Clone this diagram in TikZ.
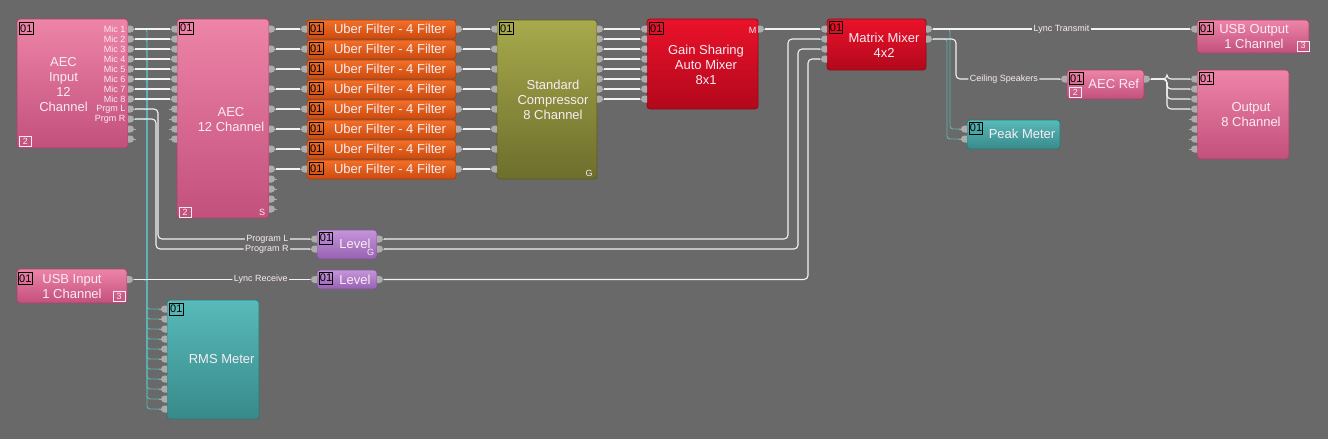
\documentclass[tikz,border=0pt]{standalone}
\usepackage{fontspec}
\setmainfont{Liberation Sans}
\usetikzlibrary{calc}
\definecolor{bg}{RGB}{105,105,105}
\definecolor{pinkT}{RGB}{238,132,168}
\definecolor{pinkB}{RGB}{194,80,124}
\definecolor{oraT}{RGB}{242,112,40}
\definecolor{oraB}{RGB}{204,74,14}
\definecolor{oliT}{RGB}{168,170,76}
\definecolor{oliB}{RGB}{108,110,44}
\definecolor{redT}{RGB}{234,18,42}
\definecolor{redB}{RGB}{178,8,28}
\definecolor{tealT}{RGB}{88,186,186}
\definecolor{tealB}{RGB}{56,138,138}
\definecolor{purT}{RGB}{198,148,218}
\definecolor{purB}{RGB}{150,98,178}
\definecolor{txt}{RGB}{250,236,244}
\definecolor{portc}{RGB}{172,172,172}
\definecolor{wirec}{RGB}{242,242,242}
\definecolor{tealw}{RGB}{92,182,182}
\newcommand{\blk}[7]{\node[blkst, top color=#6, bottom color=#7, draw=#7!85!black, minimum width={(#4)-(#2)}, minimum height={(#5)-(#3)}] (#1) at ({((#2)+(#4))/2},{((#3)+(#5))/2}) {};}
\newcommand{\inport}[3]{%
 \fill[portc] ({#2},{#3-3.5}) -- ({#2-2.5},{#3-3.5}) arc[start angle=270,end angle=90,radius=3.5] -- ({#2},{#3+3.5}) -- cycle;
 \draw[portc, line width=1pt] ({#2-5},{#3}) -- ({#2-8},{#3});
 \coordinate (#1) at ({#2-7},{#3});}
\newcommand{\outport}[3]{%
 \fill[portc] ({#2},{#3-3.5}) -- ({#2+2.5},{#3-3.5}) arc[start angle=-90,end angle=90,radius=3.5] -- ({#2},{#3+3.5}) -- cycle;
 \draw[portc, line width=1pt] ({#2+5},{#3}) -- ({#2+8},{#3});
 \coordinate (#1) at ({#2+7},{#3});}
\newcommand{\idbox}[3]{\node[idst] (#1) at (#2,#3) {01};}
\newcommand{\nbox}[4]{\node[nbst] (#1) at (#2,#3) {#4};}
\begin{document}
\begin{tikzpicture}[x=1pt,y=-1pt,
 wire/.style={draw=wirec, line width=1.1pt, rounded corners=4pt},
 twire/.style={draw=tealw, line width=0.9pt, rounded corners=3pt},
 blkst/.style={rounded corners=3pt, line width=0.8pt, inner sep=0pt},
 btxt/.style={text=txt, font=\fontsize{13}{15}\selectfont, align=center, inner sep=0pt},
 lbl/.style={fill=bg, text=txt, font=\fontsize{9}{9}\selectfont, inner xsep=1.5pt, inner ysep=0.5pt},
 idst/.style={draw=black, line width=0.8pt, text=black, font=\fontsize{11}{11}\selectfont, inner sep=0.3pt, anchor=north west, minimum width=13.3pt, minimum height=12pt},
 nbst/.style={draw=txt, line width=0.8pt, text=txt, font=\fontsize{9}{9}\selectfont, inner sep=0.3pt, minimum width=11.5pt, minimum height=10pt, anchor=north west},
 sml/.style={text=txt, font=\fontsize{9}{9}\selectfont, inner sep=0pt}
]
\fill[bg] (0,0) rectangle (1328,439);
\useasboundingbox (0,0) rectangle (1328,439);

% ---------- blocks
\blk{aecin}{17}{19}{128}{148}{pinkT}{pinkB}
\blk{aec}{177}{19}{269}{218}{pinkT}{pinkB}
\foreach \k in {1,...,8}{\blk{ub\k}{307}{20*\k}{456}{20*\k+19}{oraT}{oraB}}
\blk{comp}{497}{20}{597}{179}{oliT}{oliB}
\blk{gs}{647}{19}{758}{109}{redT}{redB}
\blk{lv1}{317}{230}{377}{259}{purT}{purB}
\blk{lv2}{317}{270}{377}{289}{purT}{purB}
\blk{usbin}{17}{269}{127}{303}{pinkT}{pinkB}
\blk{rms}{167}{300}{259}{419}{tealT}{tealB}
\blk{mm}{827}{19}{926}{70}{redT}{redB}
\blk{peak}{967}{120}{1060}{149}{tealT}{tealB}
\blk{usbout}{1197}{20}{1309}{53}{pinkT}{pinkB}
\blk{ref}{1067}{70}{1144}{99}{pinkT}{pinkB}
\blk{out}{1197}{70}{1289}{159}{pinkT}{pinkB}

% ---------- ports
\foreach \k in {1,...,12}{\outport{aecin-o\k}{128}{19+10*\k}\inport{aec-i\k}{177}{19+10*\k}}
\foreach \k in {1,...,8}{\outport{aec-o\k}{269}{9+20*\k}}
\foreach \k in {9,...,12}{\outport{aec-o\k}{269}{89+10*\k}}
\foreach \k in {1,...,8}{\inport{ub\k-i}{307}{9+20*\k}\outport{ub\k-o}{456}{9+20*\k}\inport{comp-i\k}{497}{9+20*\k}\outport{comp-o\k}{597}{19+10*\k}\inport{gs-i\k}{647}{19+10*\k}}
\outport{gs-o}{758}{29}
\inport{lv1-i1}{317}{239}\inport{lv1-i2}{317}{249}
\outport{lv1-o1}{377}{239}\outport{lv1-o2}{377}{249}
\inport{lv2-i}{317}{279.5}\outport{lv2-o}{377}{279.5}
\outport{usbin-o}{127}{279.5}
\foreach \k in {1,...,11}{\inport{rms-i\k}{167}{299+10*\k}}
\foreach \k in {1,...,4}{\inport{mm-i\k}{827}{19+10*\k}}
\outport{mm-o1}{926}{29}\outport{mm-o2}{926}{39}
\inport{peak-i1}{967}{129}\inport{peak-i2}{967}{139}
\inport{usbout-i}{1197}{29}
\inport{ref-i}{1067}{79}\outport{ref-o}{1144}{79}
\foreach \k in {1,...,8}{\inport{out-i\k}{1197}{69+10*\k}}

% ---------- teal (meter) connectors
\foreach \k in {1,...,10}{\draw[twire] (aecin-o\k) -- ++(12,0) |- (rms-i\k);}
\draw[twire] (usbin-o) -- ++(13,0) |- (rms-i11);
\draw[twire] (mm-o1) -- ++(17,0) |- (peak-i1);
\draw[twire] (mm-o2) -- ++(14,0) |- (peak-i2);

% ---------- white connectors
\foreach \k in {1,...,8}{
 \draw[wire] (aecin-o\k) -- (aec-i\k);
 \draw[wire] (aec-o\k) -- (ub\k-i);
 \draw[wire] (ub\k-o) -- (comp-i\k);
 \draw[wire] (comp-o\k) -- (gs-i\k);}
\draw[wire] (aecin-o9) -- ++(23,0) |- node[lbl,pos=0.86]{Program L} (lv1-i1);
\draw[wire] (aecin-o10) -- ++(21,0) |- node[lbl,pos=0.86]{Program R} (lv1-i2);
\draw[wire] (usbin-o) -- node[lbl,pos=0.72]{Lync Receive} (lv2-i);
\draw[wire] (gs-o) -- (mm-i1);
\draw[wire] (lv1-o1) -| ([xshift=-32pt]mm-i2) -- (mm-i2);
\draw[wire] (lv1-o2) -| ([xshift=-22pt]mm-i3) -- (mm-i3);
\draw[wire] (lv2-o) -| ([xshift=-12pt]mm-i4) -- (mm-i4);
\draw[wire] (mm-o1) -- node[lbl,pos=0.5]{Lync Transmit} (usbout-i);
\draw[wire] (mm-o2) -- ++(23,0) |- node[lbl,pos=0.73]{Ceiling Speakers} (ref-i);
\foreach \k in {1,...,4}{\draw[wire] (ref-o) -- ++(16,0) |- (out-i\k);}

% ---------- output labels of AEC Input
\foreach \t [count=\k] in {Mic 1,Mic 2,Mic 3,Mic 4,Mic 5,Mic 6,Mic 7,Mic 8,Prgm L,Prgm R}
 {\node[sml, anchor=east] (ml\k) at (125.5,19+10*\k) {\t};}

% ---------- block texts
\node[btxt] (t-aecin) at (63.5,84.5) {AEC\\Input\\12\\Channel};
\node[btxt] (t-aec) at (231,119.5) {AEC\\12 Channel};
\foreach \k in {1,...,8}{\node[btxt] (t-ub\k) at (390,9+20*\k) {Uber Filter - 4 Filter};}
\node[btxt] (t-comp) at (553,99.5) {Standard\\Compressor\\8 Channel};
\node[btxt] (t-gs) at (706,64.5) {Gain Sharing\\Auto Mixer\\8x1};
\node[btxt] (t-lv1) at (355,244) {Level};
\node[btxt] (t-lv2) at (355,279.5) {Level};
\node[btxt] (t-usbin) at (72,287) {USB Input\\1 Channel};
\node[btxt] (t-rms) at (221.7,359.3) {RMS Meter};
\node[btxt] (t-mm) at (884,45) {Matrix Mixer\\4x2};
\node[btxt] (t-peak) at (1022,134.3) {Peak Meter};
\node[btxt] (t-usbout) at (1254,36.7) {USB Output\\1 Channel};
\node[btxt] (t-ref) at (1113.7,84) {AEC Ref};
\node[btxt] (t-out) at (1251,114.7) {Output\\8 Channel};

\node[sml] (m-gs) at (752.7,30) {M};
\node[sml] (g-comp) at (589,173) {G};
\node[sml] (s-aec) at (262,212) {S};
\node[sml] (g-lv1) at (370.7,252.7) {G};

% ---------- id boxes
\idbox{id-aecin}{19.3}{22}
\idbox{id-aec}{179.3}{21.7}
\foreach \k in {1,...,8}{\idbox{id-ub\k}{309.3}{20*\k+2.3}}
\idbox{id-comp}{499.3}{22.3}
\idbox{id-gs}{649.3}{22}
\idbox{id-lv1}{319}{231.7}
\idbox{id-lv2}{319}{271.7}
\idbox{id-usbin}{18.3}{272.3}
\idbox{id-rms}{169.3}{302.7}
\idbox{id-mm}{829}{21}
\idbox{id-peak}{969}{121.5}
\idbox{id-usbout}{1199.3}{22.3}
\idbox{id-ref}{1069.3}{72.3}
\idbox{id-out}{1199.3}{72.3}

\nbox{nb-aecin}{19.3}{136}{2}
\nbox{nb-aec}{179}{207}{2}
\nbox{nb-usbin}{113}{290.5}{3}
\nbox{nb-usbout}{1297}{40.5}{3}
\nbox{nb-ref}{1069.3}{87}{2}
\end{tikzpicture}
\end{document}
